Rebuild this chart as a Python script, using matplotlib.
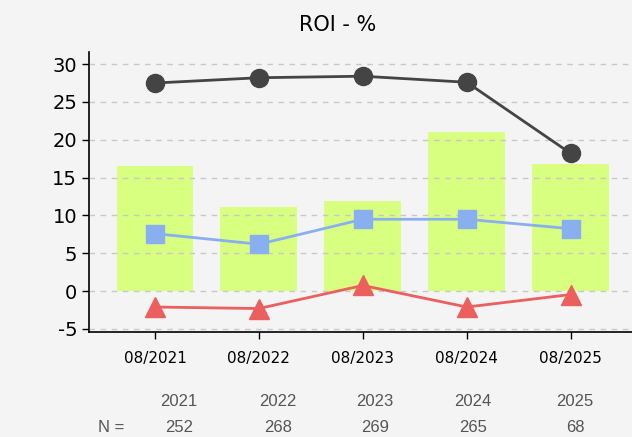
import numpy as np
import matplotlib
matplotlib.use("Agg")
import matplotlib.pyplot as plt

plt.rcParams['axes.unicode_minus'] = False

# data
periods = ['08/2021', '08/2022', '08/2023', '08/2024', '08/2025']
years = ['2021', '2022', '2023', '2024', '2025']
counts = ['252', '268', '269', '265', '68']
bar_vals = [16.5, 11.1, 11.9, 21.0, 16.8]
circle_vals = [27.5, 28.2, 28.4, 27.6, 18.2]
square_vals = [7.6, 6.2, 9.5, 9.5, 8.25]
triangle_vals = [-2.1, -2.3, 0.75, -2.1, -0.45]

bg = '#f4f4f4'
W, H = 632, 437

fig = plt.figure(figsize=(W/100, H/100), dpi=100, facecolor=bg)
ax = fig.add_axes([89/W, 1-332/H, (632-89)/W, (332-52)/H])
ax.set_facecolor(bg)

x = np.arange(len(periods))
ax.bar(x, bar_vals, width=0.74, color='#d9ff80', zorder=1)
ax.plot(x, circle_vals, color='#444444', lw=2, marker='o', ms=13, zorder=4)
ax.plot(x, square_vals, color='#88b0f0', lw=2, marker='s', ms=13, zorder=4)
ax.plot(x, triangle_vals, color='#ec5f5f', lw=2, marker='^', ms=14, zorder=4)

ax.set_xlim(-0.635, 4.59)
ax.set_ylim(-5.4, 31.6)
ax.set_yticks(range(-5, 31, 5))
ax.set_xticks(x)
ax.set_xticklabels(periods, fontsize=11)
ax.tick_params(axis='y', labelsize=14, length=5, width=1)
ax.tick_params(axis='x', length=5, width=1, pad=9)

ax.yaxis.grid(True, color='#c8c8c8', lw=1, dashes=(4, 4), zorder=2)
ax.xaxis.grid(False)
for gl in ax.yaxis.get_gridlines():
    gl.set_zorder(2)
ax.set_axisbelow(False)

for s in ['top', 'right']:
    ax.spines[s].set_visible(False)
for s in ['left', 'bottom']:
    ax.spines[s].set_color('black')
    ax.spines[s].set_linewidth(1.2)

fig.text(338/W, 1-25/H, 'ROI - %', fontsize=15, ha='center', va='center')

# table below the axis
year_x = [179, 278, 375, 473, 575]
tfont = dict(family='Liberation Sans', fontsize=12, color='#555555', ha='center', va='center')
for px, yr, n in zip(year_x, years, counts):
    fig.text(px/W, 1-402/H, yr, **tfont)
    fig.text(px/W, 1-428/H, n, **tfont)
fig.text(111/W, 1-428/H, 'N =', **tfont)

fig.savefig('out.png', dpi=100, facecolor=bg)
